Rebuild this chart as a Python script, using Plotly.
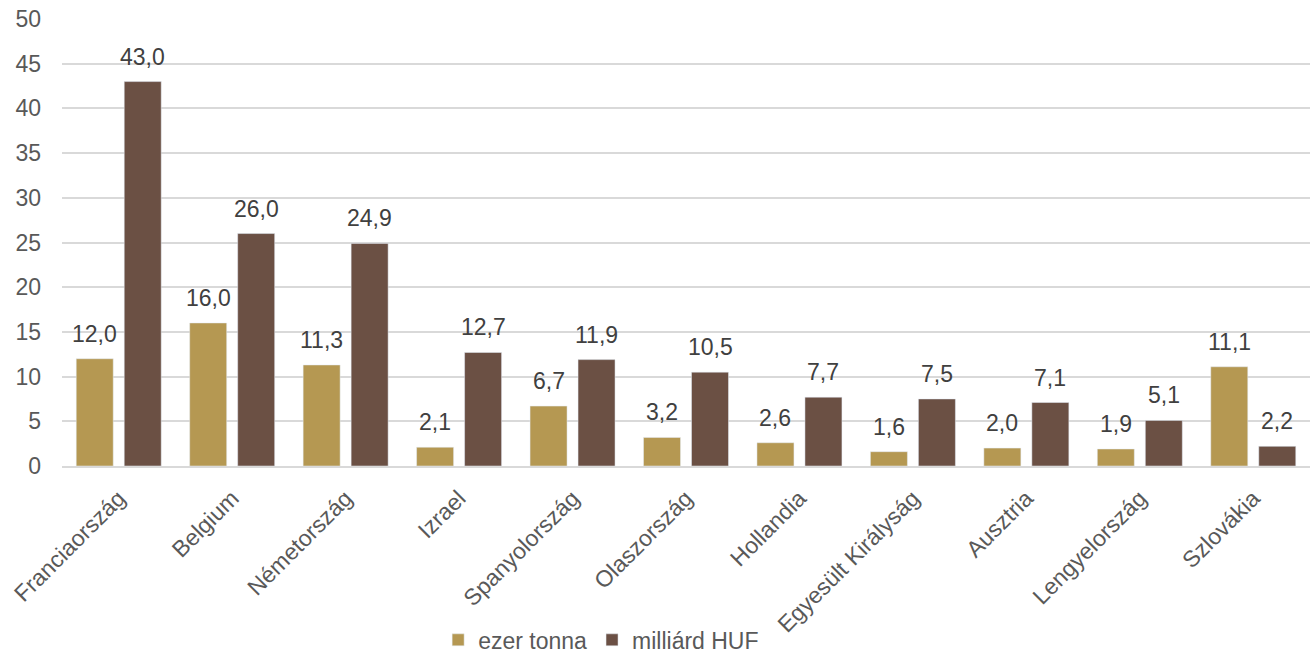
import plotly.graph_objects as go

countries = ["Franciaország", "Belgium", "Németország", "Izrael", "Spanyolország",
             "Olaszország", "Hollandia", "Egyesült Királyság", "Ausztria",
             "Lengyelország", "Szlovákia"]
ezer_tonna = [12.0, 16.0, 11.3, 2.1, 6.7, 3.2, 2.6, 1.6, 2.0, 1.9, 11.1]
milliard_huf = [43.0, 26.0, 24.9, 12.7, 11.9, 10.5, 7.7, 7.5, 7.1, 5.1, 2.2]
y_ticks = [0, 5, 10, 15, 20, 25, 30, 35, 40, 45, 50]

def fmt(v):
    return f"{v:.1f}".replace(".", ",")

font_family = "Liberation Sans, Arial, sans-serif"
FS = 23

fig = go.Figure()
fig.add_trace(go.Bar(x=countries, y=ezer_tonna, name="ezer tonna", marker_color="#B59852"))
fig.add_trace(go.Bar(x=countries, y=milliard_huf, name="milliárd HUF", marker_color="#6B5044"))

annotations = []
for series, shift in ((ezer_tonna, -24), (milliard_huf, 24)):
    for c, v in zip(countries, series):
        annotations.append(dict(
            x=c, y=v, xref="x", yref="y", text=fmt(v), showarrow=False,
            xanchor="center", yanchor="bottom", xshift=shift, yshift=10,
            font=dict(size=FS, color="#404040", family=font_family),
        ))

fig.update_layout(
    width=1312, height=657,
    margin=dict(l=62, r=2, t=19, b=191, autoexpand=False),
    paper_bgcolor="white", plot_bgcolor="white",
    barmode="group", bargap=0.154, bargroupgap=0.229,
    font=dict(family=font_family, size=FS, color="#595959"),
    showlegend=True,
    legend=dict(orientation="h", x=0.432, xanchor="center", y=-0.389, yanchor="middle",
                font=dict(size=FS, color="#595959"), traceorder="normal",
                itemwidth=30, bgcolor="rgba(0,0,0,0)"),
    annotations=annotations,
    xaxis=dict(tickangle=-45, showgrid=False, showline=True, linecolor="#d9d9d9",
               linewidth=1.5, tickfont=dict(size=FS, color="#595959"),
               ticklabelstandoff=8, automargin=False),
    yaxis=dict(range=[0, 50], tickvals=y_ticks, showgrid=True, gridcolor="#d9d9d9",
               gridwidth=1.5, zeroline=False, tickfont=dict(size=FS, color="#595959"),
               ticks="", ticklabelstandoff=20, automargin=False),
)

fig.write_html("out.html", config={"displayModeBar": False},
               post_script="document.body.style.margin='0';document.body.style.overflow='hidden';")
